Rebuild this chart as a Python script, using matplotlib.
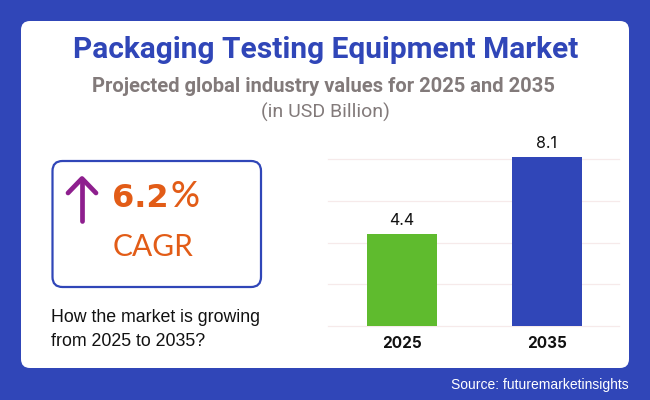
import matplotlib
matplotlib.use("Agg")
import matplotlib.pyplot as plt
from matplotlib.patches import FancyBboxPatch

years = ["2025", "2035"]
values = [4.4, 8.1]
bar_colors = ["#5FBB2E", "#3046B8"]
grid_ticks = [0, 2, 4, 6, 8]

BLUE = "#3046B8"
ORANGE = "#E25C17"
PURPLE = "#8E1F8E"
GREY = "#827A7A"

fig = plt.figure(figsize=(6.5, 4.0), dpi=100, facecolor=BLUE)

# full figure layer in pixel coordinates, y going down
bg = fig.add_axes([0, 0, 1, 1])
bg.set_xlim(0, 650)
bg.set_ylim(400, 0)
bg.axis("off")

bg.add_patch(FancyBboxPatch((21, 21), 608, 347, boxstyle="round,pad=0,rounding_size=9",
                            fc="white", ec="none"))
bg.add_patch(FancyBboxPatch((52.5, 161), 208.5, 126, boxstyle="round,pad=0,rounding_size=10",
                            fc="white", ec=BLUE, lw=1.6))

bg.text(325.5, 50, "Packaging Testing Equipment Market", family="Roboto", weight="bold",
        fontsize=21.5, color=BLUE, ha="center", va="center")
bg.text(323.5, 87, "Projected global industry values for 2025 and 2035", family="Roboto",
        weight="bold", fontsize=14.5, color=GREY, ha="center", va="center")
bg.text(325.5, 112.5, "(in USD Billion)", family="Roboto", fontsize=14, color=GREY,
        ha="center", va="center")

# arrow
bg.plot([82, 82], [221, 180], color=PURPLE, lw=3.4, solid_capstyle="round")
bg.plot([68, 82, 96], [193, 178.5, 193], color=PURPLE, lw=3.4,
        solid_capstyle="round", solid_joinstyle="round")

bg.text(112.5, 207, "6.2", family="DejaVu Sans", weight="bold", fontsize=23, color=ORANGE,
        ha="left", va="baseline")
bg.text(171, 207, "%", family="Lato", weight="medium", fontsize=26, color=ORANGE,
        ha="left", va="baseline")
bg.text(113, 256, "CAGR", family="Lato", fontsize=21.5, color=ORANGE, ha="left", va="baseline")

bg.text(51, 317, "How the market is growing", family="Liberation Sans", fontsize=12.8,
        color="#111111", ha="left", va="center")
bg.text(51, 342, "from 2025 to 2035?", family="Liberation Sans", fontsize=12.8,
        color="#111111", ha="left", va="center")
bg.text(628.5, 385, "Source: futuremarketinsights", family="Liberation Sans", fontsize=10,
        color="white", ha="right", va="center")

# bar chart, spans x 328-619 and y 326-158 in the picture
ax = fig.add_axes([328 / 650, (400 - 326) / 400, 291 / 650, 168 / 400])
ax.patch.set_alpha(0)
ax.set_xlim(-0.51, 1.497)
ax.set_ylim(0, 8.05)
for s in ax.spines.values():
    s.set_visible(False)
ax.set_yticks(grid_ticks)
ax.tick_params(axis="y", length=0, labelleft=False)
ax.tick_params(axis="x", length=0, pad=7)
ax.grid(axis="y", color="#F6EAEA", lw=0.9)
ax.set_axisbelow(True)
for gl in ax.get_ygridlines():
    gl.set_clip_on(False)

bars = ax.bar(range(len(years)), values, width=0.483, color=bar_colors, clip_on=False)
ax.set_xticks(range(len(years)))
ax.set_xticklabels(years, family="Inter", weight="bold", fontsize=11, color="#111111")
for x, v in enumerate(values):
    ax.annotate(str(v), (x, v), xytext=(0, 4.5), textcoords="offset points", ha="center",
                va="bottom", family="Inter", fontsize=11.5, color="#111111",
                annotation_clip=False)

fig.savefig("out.png", dpi=100, facecolor=BLUE)
